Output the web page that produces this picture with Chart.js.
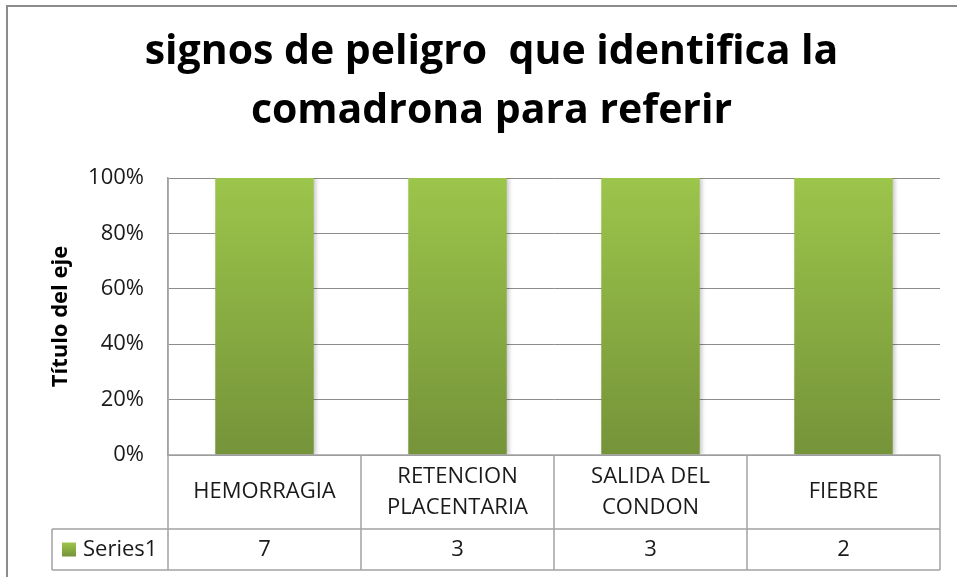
<!DOCTYPE html>
<html>
<head>
<meta charset="utf-8">
<script src="https://cdn.jsdelivr.net/npm/chart.js@4"></script>
<style>
  body { margin: 0; background: #fff; }
  #wrap { width: 957px; height: 577px; }
</style>
</head>
<body>
<div id="wrap"><canvas id="chart" width="957" height="577"></canvas></div>
<script>
//chart texts
const titleLines = ["signos de peligro  que identifica la", "comadrona para referir"];
const yTitle = "Título del eje";
const seriesName = "Series1";
//categories (one inner array = lines of one label)
const categories = [["HEMORRAGIA"], ["RETENCION", "PLACENTARIA"], ["SALIDA DEL", "CONDON"], ["FIEBRE"]];
//counts shown in the data table
const counts = [7, 3, 3, 2];
//100% stacked: share of each category total (only one series here)
const totals = counts.slice();
const shares = counts.map((v, i) => v / totals[i]);
//y ticks
const yTicks = [0, 0.2, 0.4, 0.6, 0.8, 1];

const lineGray = "#a3a3a3";
const textFont = '"Open Sans", sans-serif';

//fill for a bar, light green on top to dark green at the bottom
const barFill = (ctx, top, bottom) => {
  const g = ctx.createLinearGradient(0, top, 0, bottom);
  g.addColorStop(0, "#9cc54b");
  g.addColorStop(1, "#759339");
  return g;
};

//frame, shadow and the data table under the plot
const tablePlugin = {
  id: "tablePlugin",
  beforeDatasetsDraw(chart) {
    const c = chart.ctx;
    c.save();
    c.shadowColor = "rgba(0,0,0,0.22)";
    c.shadowBlur = 4;
    c.shadowOffsetX = 2;
    c.shadowOffsetY = 0;
  },
  afterDatasetsDraw(chart) {
    chart.ctx.restore();
  },
  afterDraw(chart) {
    const c = chart.ctx;
    const area = chart.chartArea;
    const x = chart.scales.x;
    const step = x.getPixelForValue(1) - x.getPixelForValue(0);
    const row1 = area.bottom;
    const row2 = row1 + 74;
    const row3 = row2 + 41;
    const keyLeft = 52;

    c.save();
    //outer frame (cut by the picture edge on the right and bottom)
    c.strokeStyle = "#8c8c8c";
    c.lineWidth = 2;
    c.beginPath();
    c.moveTo(7, 577);
    c.lineTo(7, 6);
    c.lineTo(957, 6);
    c.stroke();

    c.strokeStyle = lineGray;
    c.lineWidth = 1.5;
    c.beginPath();
    //horizontal lines of the table
    c.moveTo(area.left, row1); c.lineTo(area.right, row1);
    c.moveTo(keyLeft, row2); c.lineTo(area.right, row2);
    c.moveTo(keyLeft, row3); c.lineTo(area.right, row3);
    c.moveTo(keyLeft, row2); c.lineTo(keyLeft, row3);
    //vertical lines between the columns
    for (let i = 0; i <= categories.length; i++) {
      const px = x.getPixelForValue(i) - step / 2;
      c.moveTo(px, i === 0 ? area.top : row1);
      c.lineTo(px, row3);
    }
    c.stroke();

    c.fillStyle = "#1a1a1a";
    c.font = "22px " + textFont;
    c.textAlign = "center";
    c.textBaseline = "middle";
    categories.forEach((lines, i) => {
      const cx = x.getPixelForValue(i);
      const mid = (row1 + row2) / 2;
      const lh = 31;
      lines.forEach((t, k) => {
        c.fillText(t, cx, mid + (k - (lines.length - 1) / 2) * lh);
      });
      c.fillText(String(counts[i]), cx, (row2 + row3) / 2);
    });

    //legend key and series name
    const ky = (row2 + row3) / 2;
    c.fillStyle = barFill(c, ky - 7, ky + 7);
    c.fillRect(62, ky - 7, 14, 14);
    c.fillStyle = "#1a1a1a";
    c.textAlign = "left";
    c.fillText(seriesName, 83, ky);
    c.restore();
  },
};

new Chart(document.getElementById("chart"), {
  type: "bar",
  plugins: [tablePlugin],
  data: {
    labels: categories,
    datasets: [
      {
        label: seriesName,
        data: shares,
        backgroundColor: (context) => {
          const area = context.chart.chartArea;
          if (!area) return "#8aaf44";
          return barFill(context.chart.ctx, area.top, area.bottom);
        },
        borderWidth: 0,
        categoryPercentage: 1,
        barPercentage: 0.51,
      },
    ],
  },
  options: {
    responsive: false,
    animation: false,
    layout: { padding: { left: 43, right: 17, top: 0, bottom: 0 } },
    plugins: {
      legend: { display: false },
      tooltip: { enabled: false },
      title: {
        display: true,
        text: titleLines,
        color: "#000",
        font: { family: textFont, size: 41, weight: "bold", lineHeight: 1.44 },
        padding: { top: 23, bottom: 37 },
      },
    },
    scales: {
      x: {
        stacked: true,
        grid: { display: false },
        border: { display: false },
        ticks: { display: false },
        afterFit: (s) => { s.height = 122; },
      },
      y: {
        stacked: true,
        min: 0,
        max: 1,
        afterBuildTicks: (s) => { s.ticks = yTicks.map((v) => ({ value: v })); },
        afterFit: (s) => { s.width = 125; },
        grid: { color: "#8c8c8c", lineWidth: 1, drawTicks: false },
        border: { display: true, color: lineGray, width: 1.5 },
        ticks: {
          padding: 24,
          color: "#1a1a1a",
          font: { family: textFont, size: 22 },
          callback: (v) => Math.round(v * 100) + "%",
        },
        title: {
          display: true,
          text: yTitle,
          color: "#000",
          font: { family: textFont, size: 22, weight: "bold" },
          padding: { top: 5, bottom: 0 },
        },
      },
    },
  },
});
</script>
</body>
</html>
